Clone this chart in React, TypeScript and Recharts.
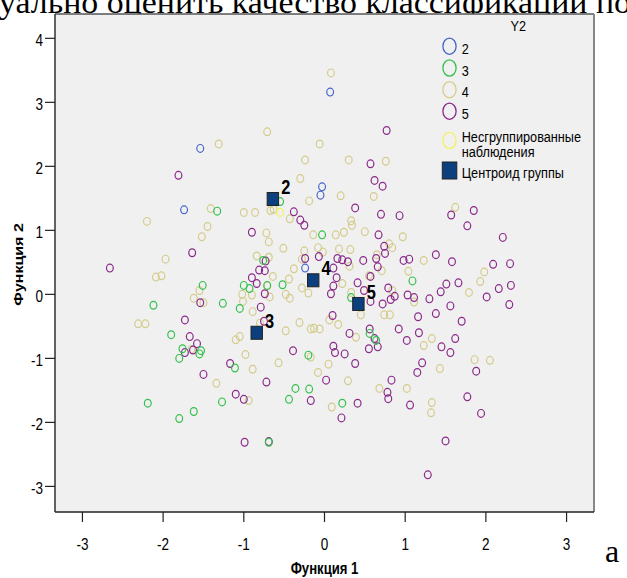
import React from 'react';
import {
  ScatterChart,
  Scatter,
  XAxis,
  YAxis,
  ReferenceArea,
  ReferenceLine,
  Legend,
  Label,
} from 'recharts';

// ---------- axes ----------
const X_DOMAIN: [number, number] = [-3.34, 3.34];
const Y_DOMAIN: [number, number] = [-3.4, 4.38];
const X_TICKS = [-3, -2, -1, 0, 1, 2, 3];
const Y_TICKS = [-3, -2, -1, 0, 1, 2, 3, 4];
const X_TITLE = 'Функция 1';
const Y_TITLE = 'Функция 2';

// ---------- legend ----------
const LEGEND_TITLE = 'Y2';
const GROUP_NAMES = ['2', '3', '4', '5'];
const UNGROUPED_NAME = ['Несгруппированные', 'наблюдения'];
const CENTROID_NAME = 'Центроид группы';

// ---------- surrounding document text ----------
const TOP_TEXT = 'уально оценить качество классификации по';
const CAPTION = 'а';

// ---------- data: [Функция 1, Функция 2] ----------
const group2: [number, number][] = [
  [-1.54, 2.28], [-1.74, 1.32], [-0.03, 1.68], [-0.05, 1.55], [-0.24, 0.41], [0.07, 3.16],
];

const group3: [number, number][] = [
  [-1.33, 1.3], [-0.55, 1.45], [-0.76, 0.53], [-0.03, 0.93], [1.09, 0.21], [0.33, -0.05],
  [0.56, -0.61], [0.64, -0.72], [-0.2, -0.95], [-0.19, -1.48], [0.22, -1.7], [-1.51, 0.14],
  [-2.12, -0.17], [-1.26, -0.14], [-1.05, -0.22], [-1.0, 0.14], [-0.93, 0.09], [-0.71, 0.14],
  [-0.52, 0.15], [-1.9, -0.63], [-1.76, -0.85], [-1.8, -1.0], [-1.53, -0.88], [-1.55, -0.93],
  [-1.11, -1.15], [-2.19, -1.7], [-1.8, -1.94], [-1.62, -1.83], [-1.27, -1.68], [-0.36, -1.47],
  [-0.44, -1.64], [-0.69, -2.31],
];

const group4: [number, number][] = [
  [-0.71, 2.54], [-1.31, 2.35], [-0.06, 2.35], [-0.24, 2.1], [-0.3, 1.81], [-0.19, 1.46],
  [-1.41, 1.34], [-1.0, 1.28], [-0.86, 1.28], [-0.67, 1.31], [-0.63, 1.33], [-0.43, 1.18],
  [-2.2, 1.14], [-1.45, 1.06], [-1.52, 0.9], [-0.72, 0.96], [-0.69, 0.82], [-0.14, 0.93],
  [-0.51, 0.72], [-0.25, 0.68], [-0.08, 0.73], [-0.84, 0.6], [-0.69, 0.58], [-0.28, 0.55],
  [-0.38, 0.4], [-1.97, 0.55], [-2.09, 0.27], [-2.02, 0.29], [-0.64, 0.28], [-0.44, 0.24],
  [0.08, 3.46], [0.3, 2.1], [0.76, 2.08], [0.2, 1.54], [0.61, 1.53], [1.62, 1.36],
  [0.33, 1.15], [0.34, 1.08], [0.14, 0.93], [0.24, 0.97], [0.5, 0.98], [0.97, 0.9],
  [-0.02, 0.66], [0.18, 0.71], [0.32, 0.7], [0.8, 0.79], [0.84, 0.73], [1.23, 0.53],
  [0.65, 0.62], [0.31, 0.44], [0.71, 0.37], [1.04, 0.36], [1.98, 0.35], [0.55, 0.29],
  [-0.2, 0.02], [-0.28, 0.1], [0.22, 0.17], [0.33, 0.03], [1.93, 0.2], [1.79, 0.03],
  [0.84, 0.06], [1.11, -0.12], [0.45, -0.32], [0.74, -0.32], [0.81, -0.32], [0.06, -0.4],
  [0.17, -0.47], [-0.31, -0.44], [-0.17, -0.54], [-0.13, -0.53], [-0.06, -0.54], [0.39, -0.67],
  [1.33, -0.69], [1.23, -0.8], [-0.17, -0.98], [0.05, -1.09], [-0.08, -1.22], [0.29, -1.35],
  [1.43, -1.16], [1.86, -1.02], [2.05, -1.03], [0.68, -1.47], [1.02, -1.47], [0.09, -1.76],
  [1.33, -1.69], [1.32, -1.85], [-0.71, 0.13], [-1.02, 0.0], [-0.9, -0.01], [-1.01, -0.11],
  [-0.68, -0.04], [-0.48, 0.0], [-0.43, -0.06], [-1.62, -0.06], [-1.55, 0.06], [-1.5, -0.13],
  [-2.31, -0.46], [-2.22, -0.46], [-0.89, -0.27], [-1.1, -0.71], [-1.05, -0.66], [-0.98, -0.94],
  [-0.89, -1.17], [-0.57, -1.07], [-0.48, -0.57], [-1.34, -1.39], [-0.94, -1.66], [-1.65, -0.86],
  [-0.8, -0.45],
];

const group5: [number, number][] = [
  [-1.81, 1.86], [-0.38, 1.29], [-0.3, 1.16], [-0.25, 1.08], [-0.9, 0.97], [-1.64, 0.65],
  [-2.66, 0.41], [-0.24, 0.56], [-0.07, 0.59], [-0.73, 0.52], [-0.81, 0.38], [-0.74, 0.37],
  [-0.9, 0.26], [0.77, 2.56], [0.57, 2.04], [0.62, 1.78], [0.72, 1.69], [0.38, 1.35],
  [0.7, 1.25], [0.93, 1.23], [1.57, 1.24], [1.85, 1.31], [1.77, 1.07], [2.21, 0.89],
  [0.67, 0.93], [0.74, 0.75], [0.75, 0.64], [0.16, 0.56], [0.22, 0.54], [0.29, 0.51],
  [0.48, 0.53], [0.64, 0.56], [0.66, 0.43], [0.98, 0.53], [1.05, 0.55], [1.38, 0.62],
  [1.58, 0.51], [2.09, 0.47], [2.3, 0.48], [0.11, 0.41], [0.57, 0.28], [0.15, 0.26],
  [0.11, 0.13], [0.08, 0.01], [0.41, 0.18], [0.57, -0.11], [0.49, 0.06], [0.79, 0.1],
  [0.87, -0.03], [0.82, -0.08], [0.72, -0.15], [1.03, -0.01], [1.11, -0.05], [1.3, -0.07],
  [1.44, 0.04], [1.51, 0.16], [1.66, 0.18], [1.56, -0.18], [1.38, -0.3], [1.16, -0.35],
  [1.7, -0.42], [2.01, -0.04], [2.16, 0.09], [2.31, 0.14], [2.29, -0.16], [0.1, -0.33],
  [0.31, -0.61], [0.56, -0.54], [0.62, -0.69], [0.66, -0.82], [0.55, -0.85], [0.92, -0.54],
  [1.02, -0.72], [1.17, -0.6], [1.62, -0.69], [1.45, -0.82], [1.56, -0.91], [0.11, -0.81],
  [0.13, -0.91], [0.25, -0.93], [0.38, -1.08], [1.21, -1.07], [1.15, -1.22], [0.83, -1.34],
  [0.02, -1.34], [0.78, -1.53], [0.79, -1.63], [-0.17, -1.66], [0.41, -1.7], [1.06, -1.73],
  [1.88, -1.2], [1.77, -1.6], [1.94, -1.86], [0.21, -1.93], [1.5, -2.29], [1.28, -2.82],
  [-0.84, 0.17], [-0.74, 0.01], [-1.54, -0.13], [-0.79, -0.2], [-1.73, -0.4], [-0.75, -0.42],
  [-1.67, -0.66], [-1.58, -0.77], [-1.63, -0.87], [-1.73, -0.91], [-1.17, -1.08], [-1.5, -1.25],
  [-0.39, -0.88], [-0.72, -1.37], [-1.1, -1.56], [-1.0, -1.64], [-0.99, -2.31], [-0.69, -2.3],
];

const ungrouped: [number, number][] = [[-0.55, 1.28]];

const centroidLabels = ['2', '3', '4', '5'];
const centroidX = [-0.64, -0.84, -0.14, 0.42];
const centroidY = [1.49, -0.6, 0.22, -0.15];

// ---------- styles ----------
const FONT = "'Liberation Sans', Arial, sans-serif";
const NARROW = 0.82;
const COLORS = {
  g2: '#4566c8',
  g3: '#34c04c',
  g4: '#d4cc8c',
  g5: '#8a2a8a',
  ungrouped: '#f2f25c',
  centroid: '#0b3f7e',
};

const toData = (pts: [number, number][]) => pts.map(([x, y]) => ({ x, y }));
const centroidData = centroidLabels.map((label, i) => ({ x: centroidX[i], y: centroidY[i], label }));

const NText = ({ x, y, size, weight, anchor, children, rotate }: any) => (
  <text
    transform={
      rotate
        ? `translate(${x},${y}) rotate(-90) scale(1,${NARROW})`
        : `translate(${x},${y}) scale(${NARROW},1)`
    }
    fontSize={size}
    fontWeight={weight || 'normal'}
    textAnchor={anchor || 'start'}
    fontFamily={FONT}
    fill="#000"
  >
    {children}
  </text>
);

const ring = (color: string) => (props: any) => (
  <ellipse cx={props.cx} cy={props.cy} rx={3.4} ry={3.9} fill="none" stroke={color} strokeWidth={1.2} />
);

const CentroidShape = (props: any) => {
  const { cx, cy, payload } = props;
  return (
    <g>
      <rect x={cx - 5.7} y={cy - 6.5} width={11.4} height={13} fill={COLORS.centroid} stroke="#222" strokeWidth={1} />
      <NText x={cx + 12.9} y={cy - 5} size={20} weight="bold" anchor="middle">
        {payload.label}
      </NText>
    </g>
  );
};

const XTick = (props: any) => (
  <NText x={props.x} y={props.y + 12} size={16.5} anchor="middle">
    {props.payload.value}
  </NText>
);

const YTick = (props: any) => (
  <NText x={props.x} y={props.y + 8} size={16.5} anchor="end">
    {props.payload.value}
  </NText>
);

const LegendBox = () => {
  const rows = [
    { name: GROUP_NAMES[0], color: COLORS.g2, cy: 32.2, base: 40.3 },
    { name: GROUP_NAMES[1], color: COLORS.g3, cy: 54, base: 62 },
    { name: GROUP_NAMES[2], color: COLORS.g4, cy: 75.7, base: 83.3 },
    { name: GROUP_NAMES[3], color: COLORS.g5, cy: 97.2, base: 105.3 },
  ];
  return (
    <svg width={164} height={175} style={{ display: 'block', overflow: 'visible' }}>
      <NText x={88.3} y={17} size={15.5} anchor="middle">{LEGEND_TITLE}</NText>
      {rows.map((r) => (
        <g key={r.name}>
          <ellipse cx={19.5} cy={r.cy} rx={6.6} ry={8.1} fill="none" stroke={r.color} strokeWidth={1.3} />
          <NText x={31.7} y={r.base} size={15.5}>{r.name}</NText>
        </g>
      ))}
      <ellipse cx={19.5} cy={126.5} rx={6.6} ry={8.1} fill="none" stroke={COLORS.ungrouped} strokeWidth={1.3} />
      <NText x={31.7} y={127.7} size={15.5}>{UNGROUPED_NAME[0]}</NText>
      <NText x={31.7} y={142.7} size={15.5}>{UNGROUPED_NAME[1]}</NText>
      <rect x={12.3} y={148} width={14.5} height={17} fill={COLORS.centroid} stroke="#222" strokeWidth={1} />
      <NText x={31.7} y={163.7} size={15.5}>{CENTROID_NAME}</NText>
    </svg>
  );
};

export default function App() {
  return (
    <div style={{ position: 'absolute', left: 0, top: 0, width: 627, height: 578, background: '#fff', overflow: 'hidden' }}>
      <svg width={627} height={578} style={{ position: 'absolute', left: 0, top: 0 }}>
        <text x={-1} y={13} fontFamily="'Liberation Serif', 'Times New Roman', serif" fontSize={31} textLength={632} lengthAdjust="spacingAndGlyphs" fill="#000">
          {TOP_TEXT}
        </text>
        <text x={605} y={562} fontFamily="'Liberation Serif', 'Times New Roman', serif" fontSize={32} fill="#000">
          {CAPTION}
        </text>
      </svg>
      <div style={{ position: 'absolute', left: 0, top: 0 }}>
        <ScatterChart width={627} height={578} margin={{ top: 14, right: 33, bottom: 0, left: 0 }}>
          <ReferenceArea
            x1={X_DOMAIN[0]}
            x2={X_DOMAIN[1]}
            y1={Y_DOMAIN[0]}
            y2={Y_DOMAIN[1]}
            fill="#f0f0f0"
            fillOpacity={1}
            stroke="none"
            ifOverflow="visible"
          />
          <ReferenceLine y={Y_DOMAIN[1]} stroke="#555" strokeWidth={1.3} ifOverflow="visible" />
          <ReferenceLine x={X_DOMAIN[1]} stroke="#888" strokeWidth={2} ifOverflow="visible" />
          <XAxis
            type="number"
            dataKey="x"
            domain={X_DOMAIN}
            ticks={X_TICKS}
            allowDataOverflow
            height={66}
            tickSize={10}
            tickMargin={16}
            axisLine={{ stroke: '#222', strokeWidth: 1.4 }}
            tickLine={{ stroke: '#222', strokeWidth: 1.2 }}
            tick={(p: any) => <XTick {...p} />}
          >
            <Label
              content={(p: any) => (
                <NText x={p.viewBox.x + p.viewBox.width / 2} y={p.viewBox.y + 61.5} size={16} weight="bold" anchor="middle">
                  {X_TITLE}
                </NText>
              )}
            />
          </XAxis>
          <YAxis
            type="number"
            dataKey="y"
            domain={Y_DOMAIN}
            ticks={Y_TICKS}
            allowDataOverflow
            width={55}
            tickSize={10}
            tickMargin={2}
            axisLine={{ stroke: '#222', strokeWidth: 1.4 }}
            tickLine={{ stroke: '#222', strokeWidth: 1.2 }}
            tick={(p: any) => <YTick {...p} />}
          >
            <Label
              content={(p: any) => (
                <NText x={22.7} y={p.viewBox.y + p.viewBox.height / 2 + 1.5} size={16} weight="bold" anchor="middle" rotate>
                  {Y_TITLE}
                </NText>
              )}
            />
          </YAxis>
          <Scatter name="4" data={toData(group4)} shape={ring(COLORS.g4)} isAnimationActive={false} />
          <Scatter name="5" data={toData(group5)} shape={ring(COLORS.g5)} isAnimationActive={false} />
          <Scatter name="3" data={toData(group3)} shape={ring(COLORS.g3)} isAnimationActive={false} />
          <Scatter name="2" data={toData(group2)} shape={ring(COLORS.g2)} isAnimationActive={false} />
          <Scatter name="ungrouped" data={toData(ungrouped)} shape={ring(COLORS.ungrouped)} isAnimationActive={false} />
          <Scatter name="centroids" data={centroidData} shape={(p: any) => <CentroidShape {...p} />} isAnimationActive={false} />
          <Legend
            layout="vertical"
            verticalAlign="middle"
            align="center"
            wrapperStyle={{ left: 430, top: 14, width: 164, height: 175 }}
            content={() => <LegendBox />}
          />
        </ScatterChart>
      </div>
    </div>
  );
}
